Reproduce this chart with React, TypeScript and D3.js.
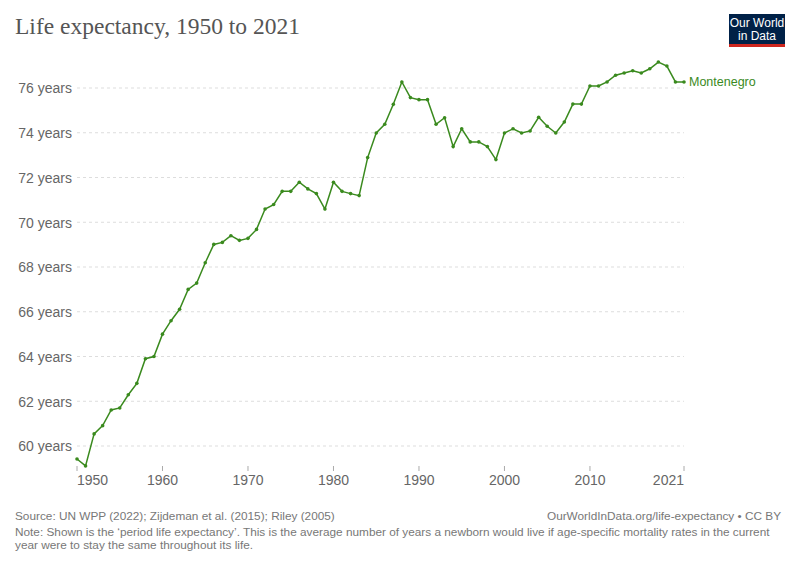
import React from 'react'
import * as d3 from 'd3'

// life expectancy, Montenegro
const years = d3.range(1950, 2022)
const lifeExp = [
  59.42, 59.11, 60.54, 60.91, 61.61, 61.7, 62.29, 62.8, 63.9, 64.0,
  65.0, 65.6, 66.11, 67.0, 67.28, 68.19, 69.01, 69.1, 69.4, 69.19,
  69.28, 69.68, 70.59, 70.79, 71.38, 71.38, 71.79, 71.49, 71.28, 70.59,
  71.79, 71.38, 71.28, 71.19, 72.89, 73.99, 74.38, 75.27, 76.27, 75.57,
  75.48, 75.48, 74.38, 74.67, 73.38, 74.18, 73.59, 73.59, 73.38, 72.8,
  73.99, 74.18, 73.99, 74.08, 74.69, 74.29, 73.99, 74.48, 75.28, 75.28,
  76.09, 76.09, 76.27, 76.57, 76.67, 76.77, 76.67, 76.86, 77.16, 76.98,
  76.27, 76.27,
]
const yTicks = [60, 62, 64, 66, 68, 70, 72, 74, 76]
const xTicks = [1950, 1960, 1970, 1980, 1990, 2000, 2010, 2021]
const seriesName = 'Montenegro'

const W = 800
const H = 565
const green = '#3a8a1e'
const sans = 'Liberation Sans, Arial, sans-serif'

export default function App() {
  const x = d3.scaleLinear().domain([1950, 2021]).range([77, 684])
  const y = d3.scaleLinear().domain([60, 76]).range([446, 88])

  const line = d3.line<number>()
    .x((_, i) => x(years[i]))
    .y(d => y(d))

  const last = lifeExp[lifeExp.length - 1]

  return (
    <svg width={W} height={H} style={{ position: 'absolute', left: 0, top: 0, background: '#fff' }}>
      <text x={15} y={34} fontFamily="Liberation Serif, Times New Roman, serif" fontSize={23.5} fill="#555">
        Life expectancy, 1950 to 2021
      </text>

      {/* logo */}
      <g>
        <rect x={729} y={14} width={56} height={33} fill="#002147" />
        <rect x={729} y={44} width={56} height={3} fill="#ce261e" />
        <text x={757} y={27} textAnchor="middle" fontFamily={sans} fontSize={12} fill="#fff">Our World</text>
        <text x={757} y={40} textAnchor="middle" fontFamily={sans} fontSize={12} fill="#fff">in Data</text>
      </g>

      {/* y grid + labels */}
      {yTicks.map(t => (
        <g key={t}>
          <line x1={77} x2={684} y1={y(t)} y2={y(t)} stroke="#ddd" strokeDasharray="3,3" />
          <text x={72} y={y(t) + 0.5} dy="0.35em" textAnchor="end" fontFamily={sans} fontSize={14} fill="#666">
            {t} years
          </text>
        </g>
      ))}

      {/* x ticks */}
      {xTicks.map((t, i) => {
        const anchor = i === 0 ? 'start' : i === xTicks.length - 1 ? 'end' : 'middle'
        return (
          <g key={t}>
            <line x1={x(t)} x2={x(t)} y1={466} y2={471} stroke="#aaa" />
            <text x={x(t)} y={485} textAnchor={anchor} fontFamily={sans} fontSize={14} fill="#666">
              {t}
            </text>
          </g>
        )
      })}

      {/* series */}
      <path d={line(lifeExp) || ''} fill="none" stroke={green} strokeWidth={1.5} />
      {lifeExp.map((v, i) => (
        <circle key={i} cx={x(years[i])} cy={y(v)} r={1.8} fill={green} />
      ))}
      <text x={689} y={y(last)} dy="0.35em" fontFamily={sans} fontSize={12.5} fill={green}>
        {seriesName}
      </text>

      {/* footer */}
      <g fontFamily={sans} fontSize={11.8} fill="#777">
        <text x={15} y={520}>Source: UN WPP (2022); Zijdeman et al. (2015); Riley (2005)</text>
        <text x={781} y={520} textAnchor="end">OurWorldInData.org/life-expectancy • CC BY</text>
        <text x={15} y={536}>
          Note: Shown is the ‘period life expectancy’. This is the average number of years a newborn would live if age-specific mortality rates in the current
        </text>
        <text x={15} y={549}>year were to stay the same throughout its life.</text>
      </g>
    </svg>
  )
}
